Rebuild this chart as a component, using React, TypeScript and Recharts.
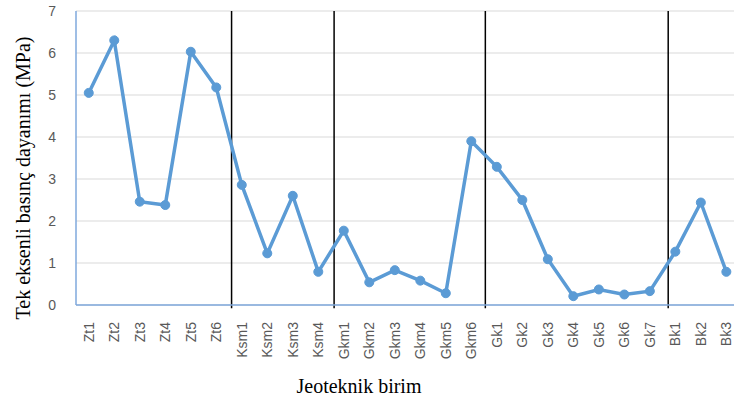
import React from 'react';
import { LineChart, Line, XAxis, YAxis, CartesianGrid, ReferenceLine } from 'recharts';

const categories = ['Zt1','Zt2','Zt3','Zt4','Zt5','Zt6','Ksm1','Ksm2','Ksm3','Ksm4','Gkm1','Gkm2','Gkm3','Gkm4','Gkm5','Gkm6','Gk1','Gk2','Gk3','Gk4','Gk5','Gk6','Gk7','Bk1','Bk2','Bk3'];
const strengthValues = [5.05,6.3,2.46,2.38,6.03,5.18,2.86,1.23,2.6,0.79,1.77,0.54,0.83,0.58,0.28,3.9,3.29,2.5,1.09,0.21,0.37,0.25,0.33,1.27,2.44,0.79];
const yTicks = [0,1,2,3,4,5,6,7];
const groupSeparators = [5.6, 9.62, 15.55, 22.72];

const data = categories.map((c, i) => ({ idx: i, name: c, value: strengthValues[i] }));
const xTicks = categories.map((_, i) => i);

const XTick = (props: any) => {
  const { x, y, payload } = props;
  return (
    <text
      transform={`translate(${x},${y + 9}) rotate(-90)`}
      textAnchor="end"
      dy="0.35em"
      fill="#595959"
      fontSize={14}
      fontFamily="Liberation Sans, Arial, sans-serif"
    >
      {categories[payload.value]}
    </text>
  );
};

export default function App() {
  return (
    <div style={{ position: 'absolute', left: 0, top: 0, background: '#fff' }}>
      <LineChart width={734} height={403} data={data} margin={{ top: 11, right: 0, bottom: 0, left: 0 }}>
        <CartesianGrid horizontal={true} vertical={false} stroke="#d9d9d9" strokeWidth={1} />
        <XAxis
          type="number"
          dataKey="idx"
          domain={[-0.5, 25.3]}
          ticks={xTicks}
          interval={0}
          allowDataOverflow
          height={98}
          tickLine={false}
          axisLine={{ stroke: '#7fa9dc', strokeWidth: 1.5 }}
          tick={<XTick />}
          label={{ value: 'Jeoteknik birim', position: 'insideBottom', offset: 10, dx: -46, fill: '#000', fontSize: 20, fontFamily: 'Liberation Serif, Times New Roman, serif' }}
        />
        <YAxis
          type="number"
          domain={[0, 7]}
          ticks={yTicks}
          width={76}
          tickLine={false}
          axisLine={{ stroke: '#7fa9dc', strokeWidth: 1.5 }}
          tick={{ fill: '#595959', fontSize: 14, fontFamily: 'Liberation Sans, Arial, sans-serif' }}
          tickMargin={14}
          label={{ value: 'Tek eksenli basınç dayanımı (MPa)', angle: -90, position: 'center', dx: -15, dy: 20, fill: '#000', fontSize: 20, fontFamily: 'Liberation Serif, Times New Roman, serif' }}
        />
        {groupSeparators.map((s) => (
          <ReferenceLine
            key={s}
            segment={[{ x: s, y: -0.08 }, { x: s, y: 7 }]}
            stroke="#000"
            strokeWidth={1.5}
            ifOverflow="visible"
          />
        ))}
        <Line
          type="linear"
          dataKey="value"
          stroke="#5B9BD5"
          strokeWidth={3.5}
          dot={{ r: 4.5, fill: '#5B9BD5', stroke: '#5B9BD5', strokeWidth: 1 }}
          isAnimationActive={false}
        />
      </LineChart>
    </div>
  );
}
